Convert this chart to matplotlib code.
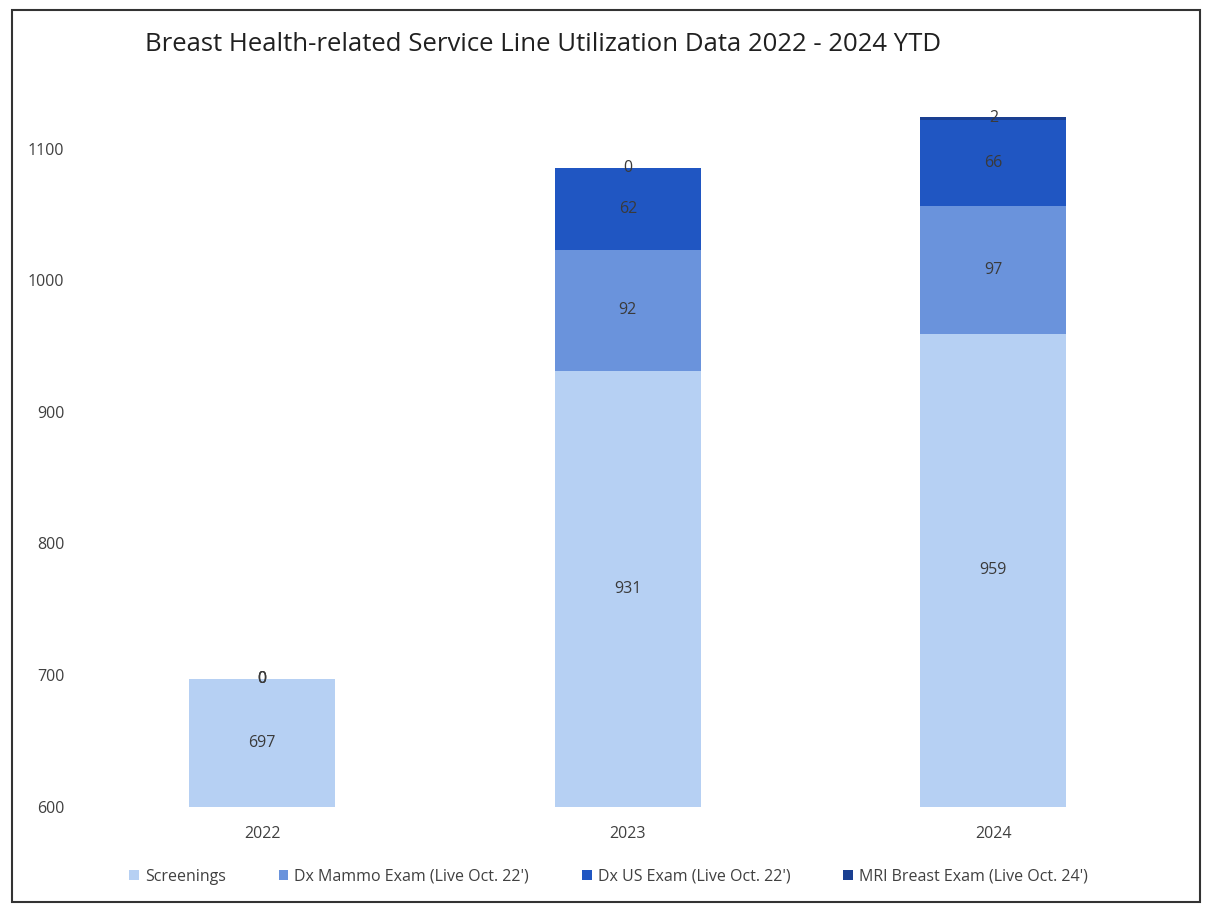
import numpy as np
import matplotlib
matplotlib.use("Agg")
import matplotlib.pyplot as plt
from matplotlib.patches import Rectangle

years = ["2022", "2023", "2024"]
screenings = [697, 931, 959]
dx_mammo = [0, 92, 97]
dx_us = [0, 62, 66]
mri = [0, 0, 2]

series_names = ["Screenings", "Dx Mammo Exam (Live Oct. 22')",
                "Dx US Exam (Live Oct. 22')", "MRI Breast Exam (Live Oct. 24')"]
colors = ["#b6d0f3", "#6a93dc", "#2056c2", "#1a3f91"]

plt.rcParams['font.family'] = ['Open Sans', 'DejaVu Sans']

fig = plt.figure(figsize=(12.05, 9.05), dpi=100)
ax = fig.add_axes([0.066, 0.1086, 0.91, 0.80])

ymin, ymax = 600, 1150
x = np.arange(len(years))
width = 0.4
bottom = np.zeros(len(years))
for vals, name, col in zip([screenings, dx_mammo, dx_us, mri], series_names, colors):
    vals = np.array(vals, dtype=float)
    ax.bar(x, vals, width, bottom=bottom, color=col, label=name)
    # labels sit in the middle of the visible part of each segment
    for i, v in enumerate(vals):
        lo = max(bottom[i], ymin)
        hi = bottom[i] + v
        yc = (lo + hi) / 2 if v > 0 else hi
        ax.text(x[i], yc, f"{int(v)}", ha="center", va="center",
                fontsize=11.5, color="#3a3a3a")
    bottom += vals

ax.set_ylim(ymin, ymax)
ax.set_xlim(-0.5, len(years) - 0.5)
ax.set_yticks([600, 700, 800, 900, 1000, 1100])
ax.set_xticks(x)
ax.set_xticklabels(years)
ax.tick_params(axis="both", length=0, labelsize=11.5, labelcolor="#404040")
ax.tick_params(axis="y", pad=11)
ax.tick_params(axis="x", pad=14)
for s in ax.spines.values():
    s.set_visible(False)

fig.text(0.12, 0.951, "Breast Health-related Service Line Utilization Data 2022 - 2024 YTD",
         fontsize=18.5, color="#202020", va="center", ha="left")

handles, labels = ax.get_legend_handles_labels()
fig.legend(handles, labels, loc="center", bbox_to_anchor=(0.505, 0.031), ncol=4,
           frameon=False, fontsize=11.5, handlelength=0.6, handleheight=0.6,
           handletextpad=0.4, columnspacing=3.3, labelcolor="#404040")

fig.patches.append(Rectangle((0.010, 0.003), 0.986, 0.986, transform=fig.transFigure,
                             fill=False, edgecolor="#333333", linewidth=1.5))

fig.savefig("out.png", dpi=100)
